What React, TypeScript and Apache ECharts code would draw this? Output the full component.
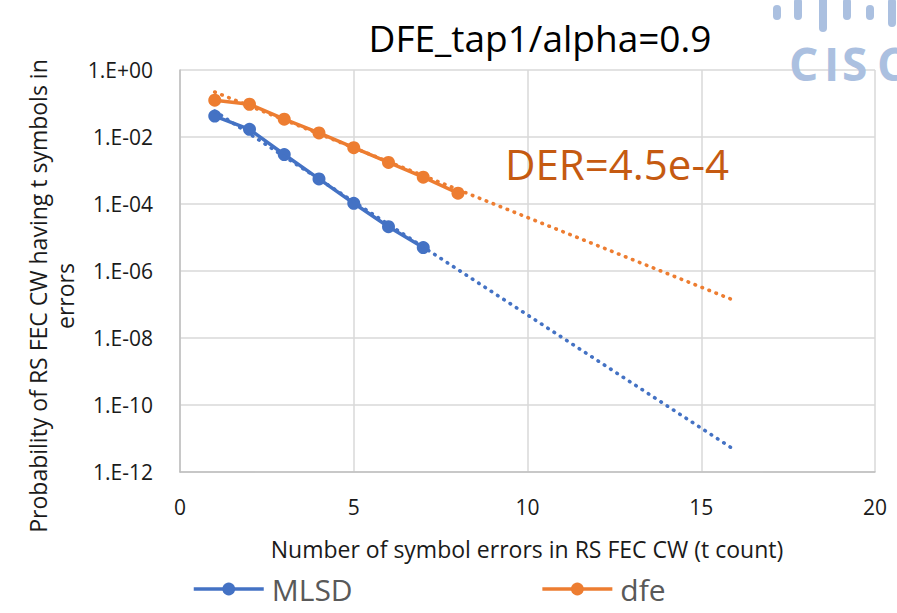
import React, { useEffect, useRef } from "react";
import * as echarts from "echarts";

const mlsdData: [number, number][] = [
  [1, 0.042], [2, 0.017], [3, 0.003], [4, 5.6e-4], [5, 1.05e-4], [6, 2.1e-5], [7, 5.0e-6],
];
const dfeData: [number, number][] = [
  [1, 0.126], [2, 0.095], [3, 0.034], [4, 0.0132], [5, 0.0048], [6, 0.00174], [7, 6.3e-4], [8, 2.1e-4],
];
const mlsdTrend: [number, number][] = [[1, 0.059], [16, 4.3e-12]];
const dfeTrend: [number, number][] = [[1, 0.22], [16, 1.26e-7]];

const titleText = "DFE_tap1/alpha=0.9";
const derText = "DER=4.5e-4";
const xName = "Number of symbol errors in RS FEC CW (t count)";
const yName = "Probability of RS FEC CW having t symbols in\nerrors";

const FONT = "'Open Sans', 'Noto Sans', sans-serif";
const BLUE = "#4472C4";
const ORANGE = "#ED7D31";
const LOGO = "#abc0e0";

export default function App() {
  const ref = useRef<HTMLDivElement>(null);
  useEffect(() => {
    if (!ref.current) return;
    const chart = echarts.init(ref.current, undefined, { renderer: "svg" });
    const bars = [
      { x: 773, y: 5, h: 15 },
      { x: 794, y: -2, h: 22 },
      { x: 819, y: -8, h: 40 },
      { x: 843, y: -2, h: 22 },
      { x: 866, y: 5, h: 15 },
      { x: 888, y: -2, h: 29 },
    ];
    const letters = [
      { t: "C", x: 789 },
      { t: "I", x: 824 },
      { t: "S", x: 842 },
      { t: "C", x: 877 },
    ];
    chart.setOption({
      animation: false,
      backgroundColor: "#ffffff",
      grid: { left: 180, right: 22, top: 70, bottom: 141, containLabel: false },
      xAxis: {
        type: "value",
        min: 0,
        max: 20,
        interval: 5,
        axisLine: { show: true, lineStyle: { color: "#bfbfbf", width: 1.5 } },
        axisTick: { show: false },
        splitLine: { show: true, lineStyle: { color: "#d9d9d9", width: 1.5 } },
        axisLabel: { color: "#1a1a1a", fontSize: 21, fontFamily: FONT, margin: 24 },
      },
      yAxis: {
        type: "log",
        logBase: 10,
        min: 1e-12,
        max: 1,
        interval: 2,
        axisLine: { show: true, lineStyle: { color: "#bfbfbf", width: 1.5 } },
        axisTick: { show: false },
        splitLine: { show: true, lineStyle: { color: "#d9d9d9", width: 1.5 } },
        minorSplitLine: { show: false },
        axisLabel: {
          color: "#1a1a1a",
          fontSize: 21,
          fontFamily: FONT,
          margin: 27,
          formatter: (v: number) => {
            const e = Math.round(Math.log10(v));
            const s = e < 0 ? "-" : "+";
            const a = Math.abs(e);
            return "1.E" + s + (a < 10 ? "0" + a : "" + a);
          },
        },
      },
      legend: {
        data: ["MLSD", "dfe"],
        left: 187,
        top: 569,
        itemWidth: 70,
        itemHeight: 16,
        itemGap: 188,
        lineStyle: { width: 3.5 },
        textStyle: { color: "#595959", fontSize: 30, fontFamily: FONT, padding: [0, 0, 0, 3] },
      },
      series: [
        {
          name: "MLSD",
          type: "line",
          data: mlsdData,
          symbol: "circle",
          symbolSize: 13,
          itemStyle: { color: BLUE },
          lineStyle: { color: BLUE, width: 3.5 },
          z: 3,
        },
        {
          name: "dfe",
          type: "line",
          data: dfeData,
          symbol: "circle",
          symbolSize: 13,
          itemStyle: { color: ORANGE },
          lineStyle: { color: ORANGE, width: 3.5 },
          z: 3,
        },
        {
          name: "MLSD trend",
          type: "line",
          data: mlsdTrend,
          symbol: "none",
          lineStyle: { color: BLUE, width: 3.6, type: [0.5, 7], cap: "round" },
          z: 4,
        },
        {
          name: "dfe trend",
          type: "line",
          data: dfeTrend,
          symbol: "none",
          lineStyle: { color: ORANGE, width: 3.6, type: [0.5, 7], cap: "round" },
          z: 4,
        },
      ],
      graphic: [
        {
          type: "text",
          x: 540,
          y: 37,
          style: {
            text: titleText,
            fontSize: 37,
            fontFamily: FONT,
            fill: "#000000",
            textAlign: "center",
            textVerticalAlign: "middle",
          },
          z: 10,
        },
        {
          type: "text",
          x: 617,
          y: 163,
          style: {
            text: derText,
            fontSize: 42,
            fontFamily: FONT,
            fill: "#c55a11",
            textAlign: "center",
            textVerticalAlign: "middle",
          },
          z: 10,
        },
        {
          type: "text",
          x: 527,
          y: 549,
          style: {
            text: xName,
            fontSize: 23,
            fontFamily: FONT,
            fill: "#1a1a1a",
            textAlign: "center",
            textVerticalAlign: "middle",
          },
          z: 10,
        },
        {
          type: "text",
          x: 51,
          y: 296,
          rotation: Math.PI / 2,
          style: {
            text: yName,
            fontSize: 23,
            fontFamily: FONT,
            fill: "#1a1a1a",
            textAlign: "center",
            textVerticalAlign: "middle",
            lineHeight: 27,
          },
          z: 10,
        },
        ...bars.map((b) => ({
          type: "rect",
          shape: { x: b.x, y: b.y, width: 8, height: b.h, r: 4 },
          style: { fill: LOGO },
          z: 1,
        })),
        ...letters.map((l) => ({
          type: "text",
          x: l.x,
          y: 63,
          style: {
            text: l.t,
            fontSize: 46,
            fontWeight: "bold",
            fontFamily: FONT,
            fill: LOGO,
            textAlign: "left",
            textVerticalAlign: "middle",
          },
          z: 1,
        })),
      ],
    });
    return () => chart.dispose();
  }, []);
  return (
    <div
      ref={ref}
      style={{ position: "fixed", left: 0, top: 0, width: 897, height: 613 }}
    />
  );
}
